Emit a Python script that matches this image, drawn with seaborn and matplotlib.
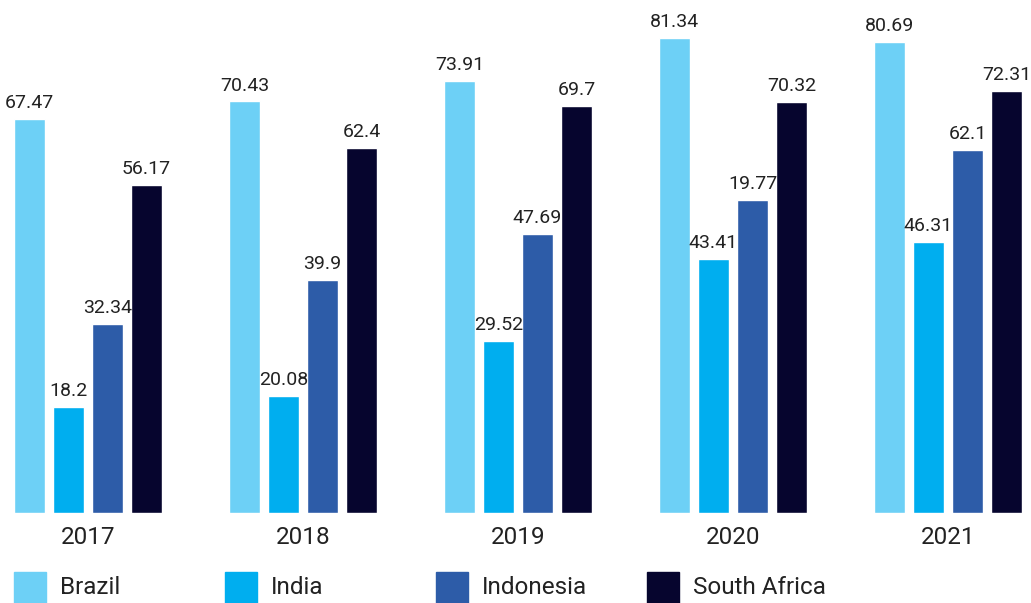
import matplotlib
matplotlib.use("Agg")
import matplotlib.pyplot as plt
import seaborn as sns
import pandas as pd
from matplotlib.patches import Rectangle

years = ["2017", "2018", "2019", "2020", "2021"]
countries = ["Brazil", "India", "Indonesia", "South Africa"]
brazil = [67.47, 70.43, 73.91, 81.34, 80.69]
india = [18.2, 20.08, 29.52, 43.41, 46.31]
indonesia = [32.34, 39.9, 47.69, 53.55, 62.1]
south_africa = [56.17, 62.4, 69.7, 70.32, 72.31]
# labels as printed on the chart (2020 Indonesia label differs from bar height)
brazil_lbl = ["67.47", "70.43", "73.91", "81.34", "80.69"]
india_lbl = ["18.2", "20.08", "29.52", "43.41", "46.31"]
indonesia_lbl = ["32.34", "39.9", "47.69", "19.77", "62.1"]
south_africa_lbl = ["56.17", "62.4", "69.7", "70.32", "72.31"]
colors = ["#6dd0f6", "#00aeef", "#2d5ca8", "#06052e"]

series = [brazil, india, indonesia, south_africa]
labels = [brazil_lbl, india_lbl, indonesia_lbl, south_africa_lbl]
rows = []
for c, vals in zip(countries, series):
    for y, v in zip(years, vals):
        rows.append({"year": y, "country": c, "value": v})
df = pd.DataFrame(rows)

sns.set_theme(style="white")
plt.rcParams["font.family"] = ["Roboto", "DejaVu Sans"]

fig = plt.figure(figsize=(10.31, 6.03), dpi=100)
ax = fig.add_axes([0, 90 / 603, 1, 513 / 603])
sns.barplot(data=df, x="year", y="value", hue="country", order=years,
            hue_order=countries, palette=colors, width=0.726, gap=0.2,
            saturation=1, ax=ax, legend=False)

for cont, lbl in zip(ax.containers, labels):
    ax.bar_label(cont, labels=lbl, padding=5, fontsize=14, color="#222222")

ax.set_xlim(-0.409, 4.386)
ax.set_ylim(0, 87.8)
ax.set_xlabel("")
ax.set_ylabel("")
ax.set_yticks([])
ax.tick_params(axis="x", length=0, pad=9, labelsize=17.5, labelcolor="#222222")
for s in ax.spines.values():
    s.set_visible(False)

# legend
W, H = 1031, 603
for i, (c, col) in enumerate(zip(countries, colors)):
    x0 = 14 + i * 211
    fig.patches.append(Rectangle((x0 / W, 1 - 603 / H), 32 / W, 31 / H,
                                 transform=fig.transFigure, color=col))
    fig.text((x0 + 46) / W, 1 - 587 / H, c, fontsize=17.5, color="#222222",
             va="center", ha="left")

fig.savefig("out.png", dpi=100)
